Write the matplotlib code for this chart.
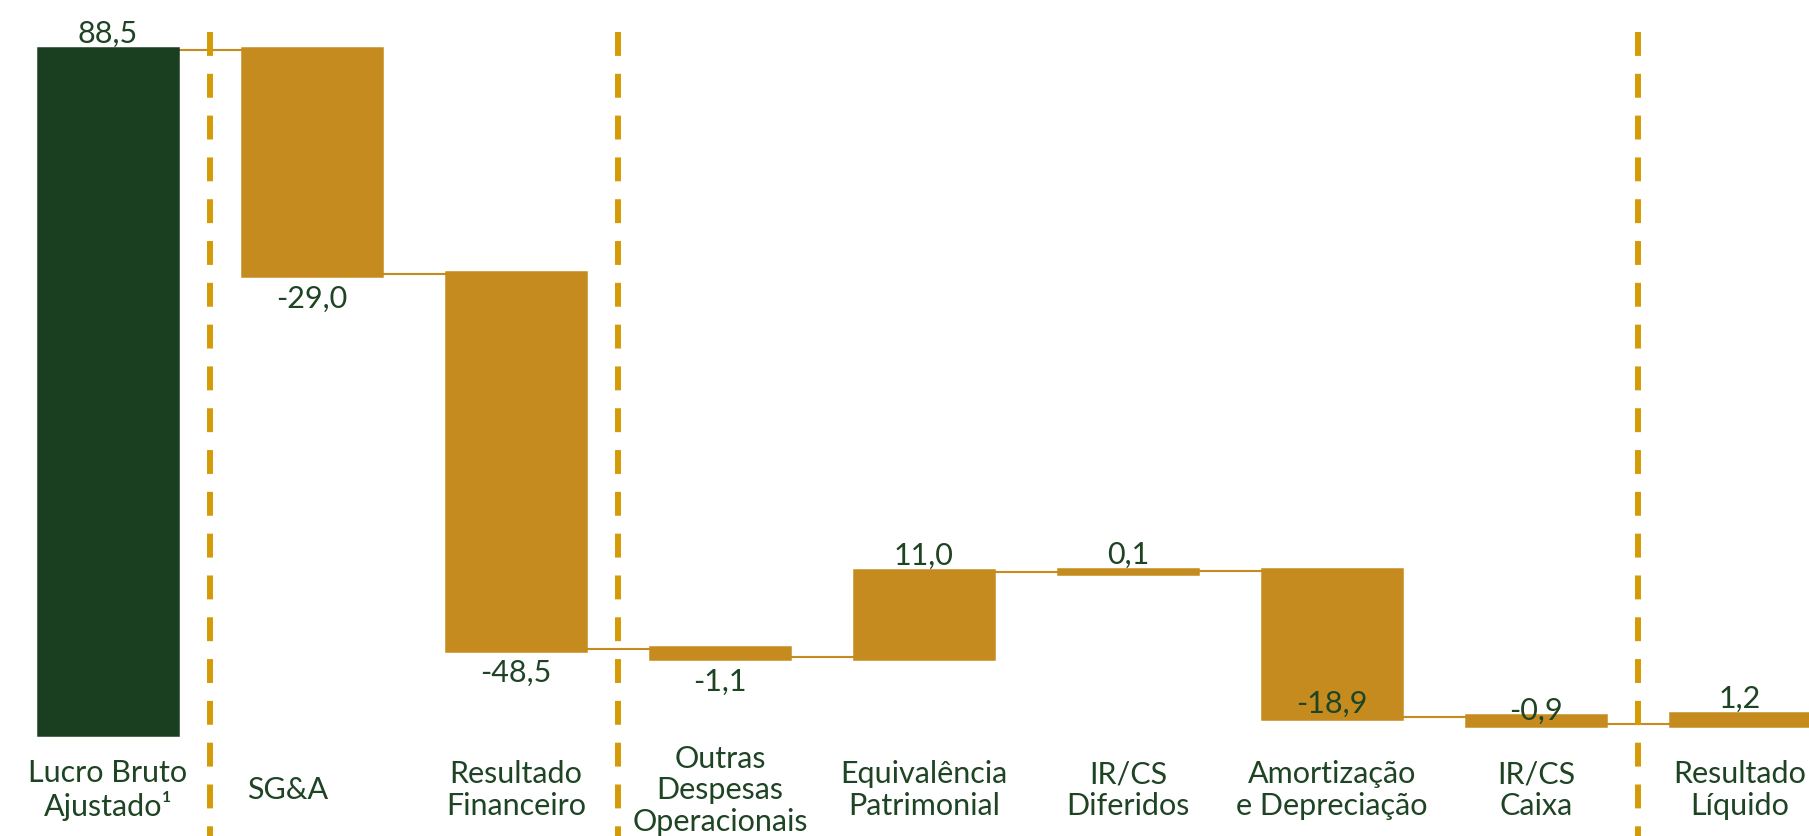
import matplotlib
matplotlib.use("Agg")
import matplotlib.pyplot as plt

# Waterfall: lucro bruto ajustado -> resultado liquido (R$ milhoes)
categories = ["Lucro Bruto\nAjustado\u00b9", "SG&A", "Resultado\nFinanceiro",
              "Outras\nDespesas\nOperacionais", "Equival\u00eancia\nPatrimonial",
              "IR/CS\nDiferidos", "Amortiza\u00e7\u00e3o\ne Deprecia\u00e7\u00e3o",
              "IR/CS\nCaixa", "Resultado\nL\u00edquido"]
values = [88.5, -29.0, -48.5, -1.1, 11.0, 0.1, -18.9, -0.9, 1.2]
label_pos = ["above", "below", "below", "below", "above", "above", "end", "end", "above"]
separators = [0.5, 2.5, 7.5]

GREEN = "#1a3f20"
GOLD = "#c68b1e"
DASH = "#d49b07"
TEXT = "#1e4424"

plt.rcParams["font.family"] = ["Lato", "DejaVu Sans"]

fig = plt.figure(figsize=(18.09, 8.37), dpi=100)
ax = fig.add_axes([0, 0, 1, 1])
ax.set_xlim(-0.529, 8.338)
ax.set_ylim(-13.28, 95.14)
ax.axis("off")

width = 0.664
level = 0.0
bottoms, heights, ends = [], [], []
for i, v in enumerate(values):
    if i == 0:
        b, h = 0.0, v
        level = v
    elif i == len(values) - 1:
        b, h = level, v
    else:
        b, h = level, v
        level = level + v
    bottoms.append(b)
    heights.append(h)
    ends.append(level)

colors = [GREEN] + [GOLD] * (len(values) - 1)
xs = list(range(len(values)))
ax.bar(xs, heights, bottom=bottoms, width=width, color=colors,
       edgecolor=colors, linewidth=4.7, zorder=2)

# connectors
for i in range(len(values) - 1):
    ax.plot([i + width / 2, i + 1 - width / 2], [ends[i], ends[i]],
            color=GOLD, lw=1.5, zorder=1, solid_capstyle="butt")

# dashed separators
for s in separators:
    ax.plot([s, s], [90.9, -13.28], color=DASH, lw=4.3,
            linestyle=(0, (4, 3)), dash_capstyle="butt", zorder=3)

# value labels
for i, v in enumerate(values):
    txt = f"{v:.1f}".replace(".", ",")
    top = max(bottoms[i], bottoms[i] + heights[i])
    low = min(bottoms[i], bottoms[i] + heights[i])
    if label_pos[i] == "above":
        ax.annotate(txt, (i, top), xytext=(0, 6), textcoords="offset points",
                    ha="center", va="baseline", fontsize=22, color=TEXT, zorder=4)
    elif label_pos[i] == "below":
        ax.annotate(txt, (i, low), xytext=(0, -7), textcoords="offset points",
                    ha="center", va="top", fontsize=22, color=TEXT, zorder=4)
    else:
        ax.annotate(txt, (i, low), xytext=(0, 4), textcoords="offset points",
                    ha="center", va="baseline", fontsize=22, color=TEXT, zorder=4)

# category labels
for i, c in enumerate(categories):
    x = i - 0.12 if c == "SG&A" else i
    ax.text(x, -7.2, c, ha="center", va="center", multialignment="center",
            fontsize=22, color=TEXT, linespacing=1.15)

fig.savefig("out.png", dpi=100)
